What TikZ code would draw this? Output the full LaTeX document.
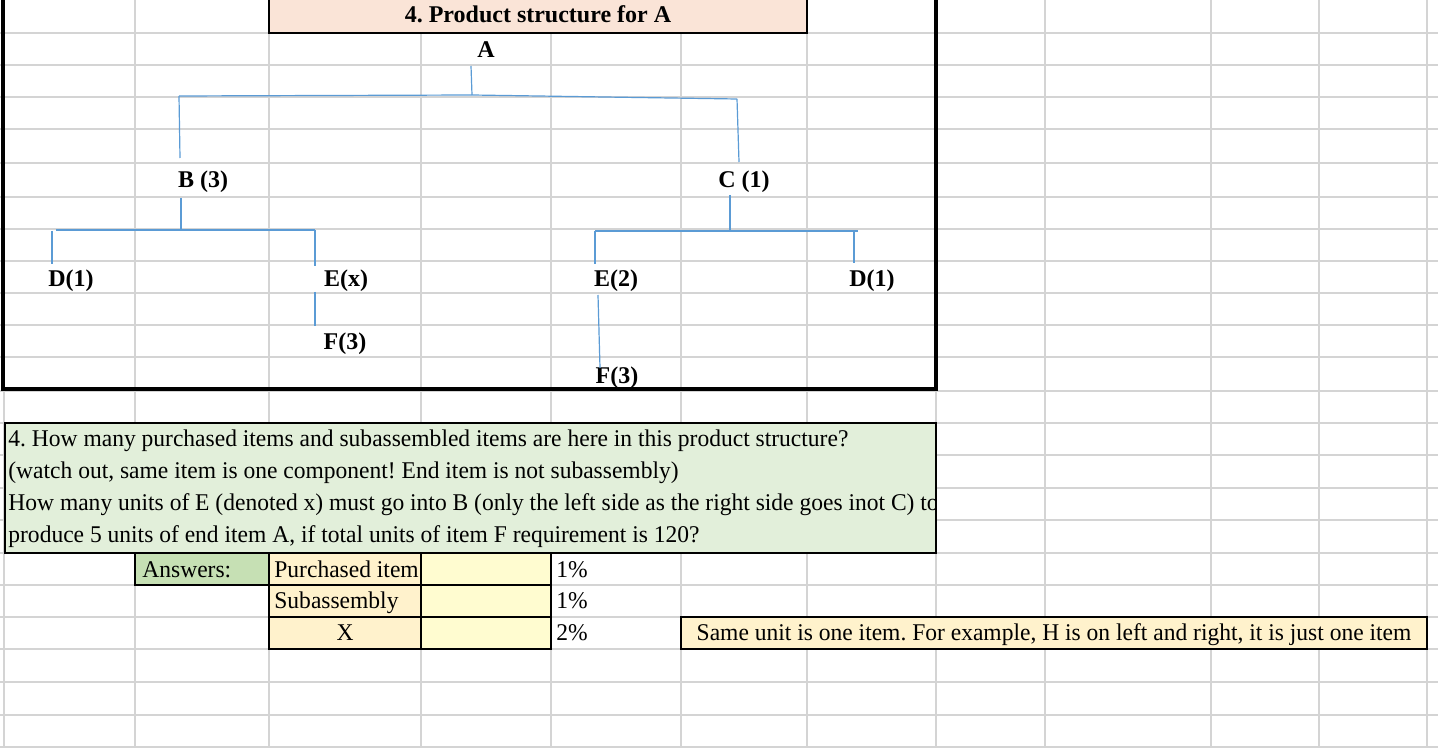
\documentclass[tikz,border=0pt]{standalone}
\usepackage{fontspec}
\setmainfont{Liberation Serif}
\newfontfamily\sheetfont[FakeStretch=0.98]{Liberation Serif}
\usepackage{tikz}
\frenchspacing

\definecolor{linkblue}{HTML}{5B9BD5}
\definecolor{gridgray}{HTML}{D4D4D4}
\definecolor{titlepeach}{HTML}{FAE4D7}
\definecolor{askgreen}{HTML}{E2EFDA}
\definecolor{answergreen}{HTML}{C6E0B4}
\definecolor{cellgold}{HTML}{FFF2CC}
\definecolor{cellyellow}{HTML}{FFFCD0}

\begin{document}
\begin{tikzpicture}[x=0.5pt,y=-0.5pt,
                    part node/.style={font=\fontsize{12}{14}\selectfont\bfseries,anchor=base,inner sep=0pt},
                    cell text/.style={font=\sheetfont\fontsize{12}{14}\selectfont,anchor=base west,inner sep=0pt},
                    link/.style={draw=linkblue,line width=0.6pt},
                    grid line/.style={draw=gridgray,line width=1pt},
                    cell/.style={draw=black,line width=1pt}]
                    \useasboundingbox (0,0) rectangle (1438,748);
                    \clip (0,0) rectangle (1438,748);
                    % sheet grid
                    \foreach \x in {4,135,269,421,551,681,807,936,1045,1211,1319,1427}
                        \draw[grid line] (\x,0) -- (\x,748);
                    \foreach \y in {33,65,97,129,163,197,229,261,293,325,357,391,423,455,488,520,553,585,617,649,682,715,747}
                        \draw[grid line] (0,\y) -- (1438,\y);

                    % product structure
                    \draw[line width=2pt] (3,-10) -- (3,389) -- (936,389) -- (936,-10);
                    \draw[cell,line width=1.25pt,fill=titlepeach] (269,-5) rectangle (807,33);
                    \node[part node] (title) at (538,23) {4. Product structure for A};

                    \node[part node] (A) at (486,58) {A};
                    \node[part node] (B) at (203,188) {B (3)};
                    \node[part node] (C) at (744,188) {C (1)};
                    \node[part node] (D1) at (71,287) {D(1)};
                    \node[part node] (Ex) at (346,287) {E(x)};
                    \node[part node] (F1) at (345,350) {F(3)};
                    \node[part node] (E2) at (616,287) {E(2)};
                    \node[part node] (D2) at (872,287) {D(1)};
                    \node[part node] (F2) at (617,383) {F(3)};

                    \foreach \n/\p in {a1/{471,66},a2/{472,95},b0/{179,96},b1/{180,158},c0/{737,99},c1/{739,162},
                                       b2/{181,198},b3/{181,230},dl0/{56,230},ex0/{315,230},dl1/{52,231},dl2/{52,264},
                                       ex1/{315,266},ex2/{315,292},ex3/{315,326},c2/{730,195},c3/{730,231},
                                       e0/{595,231},dr0/{858,231},e1/{595,264},dr1/{854,231},dr2/{854,263},
                                       e2/{598,295},e3/{600,368}}
                        \coordinate (\n) at (\p);
                    \draw[link] (a1) -- (a2);
                    \draw[link] (b0) -- (a2) -- (c0);
                    \draw[link] (b0) -- (b1);
                    \draw[link] (c0) -- (c1);
                    \draw[link] (b2) -- (b3);
                    \draw[link] (dl0) -- (ex0);
                    \draw[link] (dl1) -- (dl2);
                    \draw[link] (ex0) -- (ex1);
                    \draw[link] (ex2) -- (ex3);
                    \draw[link] (c2) -- (c3);
                    \draw[link] (e0) -- (dr0);
                    \draw[link] (e0) -- (e1);
                    \draw[link] (dr1) -- (dr2);
                    \draw[link] (e2) -- (e3);

                    % question
                    \draw[cell,fill=askgreen] (5,423) rectangle (936,553);
                    \begin{scope}
                        \clip (5,423) rectangle (935,553);
                        \node[cell text] (q1) at (8,446) {4. How many purchased items and subassembled items are here in this product structure?};
                        \node[cell text] (q2) at (8,478) {(watch out, same item is one component! End item is not subassembly)};
                        \node[cell text] (q3) at (8,510) {How many units of E (denoted x) must go into B (only the left side as the right side goes inot C) to};
                        \node[cell text] (q4) at (8,542) {produce 5 units of end item A, if total units of item F requirement is 120?};
                    \end{scope}

                    % answers
                    \draw[cell,fill=answergreen] (135,553) rectangle (269,585);
                    \draw[cell,fill=cellgold] (269,553) rectangle (421,585) (269,585) rectangle (421,617) (269,617) rectangle (421,649);
                    \draw[cell,fill=cellyellow] (421,553) rectangle (551,585) (421,585) rectangle (551,617) (421,617) rectangle (551,649);
                    \draw[cell,fill=cellgold] (681,617) rectangle (1427,649);
                    \node[cell text] (ans) at (142,577) {Answers:};
                    \node[cell text] (pur) at (274,577) {Purchased item};
                    \node[cell text] (sub) at (274,608) {Subassembly};
                    \node[cell text,anchor=base] (x) at (345,640) {X};
                    \node[cell text] (w1) at (556,577) {1\%};
                    \node[cell text] (w2) at (556,608) {1\%};
                    \node[cell text] (w3) at (556,640) {2\%};
                    \node[cell text,anchor=base] (note) at (1054,640) {Same unit is one item. For example, H is on left and right, it is just one item};
                \end{tikzpicture}
\end{document}
